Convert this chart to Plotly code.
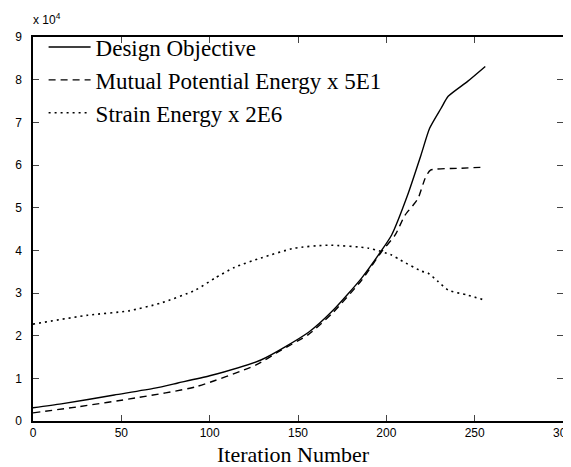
import plotly.graph_objects as go

# Design Objective
obj_x = [0, 16, 46, 69, 82, 100, 129, 156, 170, 186, 197, 203, 212, 219.6, 224.5, 231, 235, 246, 256]
obj_y = [3100, 4000, 6100, 7700, 8900, 10600, 14300, 20800, 26000, 33500, 39800, 43600, 52900, 62300, 68600, 73300, 76100, 79600, 83100]

# Mutual Potential Energy x 5E1
mpe_x = [0, 25, 58, 92, 126, 140, 156, 170, 186, 197, 205, 210.5, 215, 218, 222, 225, 240, 256]
mpe_y = [1900, 3300, 5400, 8000, 13100, 16500, 20300, 25500, 33000, 39500, 43600, 48200, 50500, 52200, 56900, 58800, 59200, 59500]

# Strain Energy x 2E6
se_x = [0, 31, 54, 72, 92, 103, 114, 129, 148, 167, 190, 203, 208, 220, 223.5, 229, 235, 246, 256]
se_y = [22700, 24800, 25800, 27600, 30700, 33500, 36000, 38200, 40500, 41200, 40500, 38900, 37700, 35100, 34700, 32800, 30700, 29500, 28300]

x_ticks = [0, 50, 100, 150, 200, 250, 300]
y_ticks = [0, 10000, 20000, 30000, 40000, 50000, 60000, 70000, 80000, 90000]
y_tick_text = ["0", "1", "2", "3", "4", "5", "6", "7", "8", "9"]

fig = go.Figure()
fig.add_trace(go.Scatter(x=obj_x, y=obj_y, mode="lines", name="Design Objective",
                         line=dict(color="black", width=1.4, shape="spline", smoothing=0.6)))
fig.add_trace(go.Scatter(x=mpe_x, y=mpe_y, mode="lines", name="Mutual Potential Energy x 5E1",
                         line=dict(color="black", width=1.4, dash="7px,5px", shape="spline", smoothing=0.6)))
fig.add_trace(go.Scatter(x=se_x, y=se_y, mode="lines", name="Strain Energy x 2E6",
                         line=dict(color="black", width=1.6, dash="2px,4px", shape="spline", smoothing=0.6)))

fig.update_layout(
    width=571, height=467,
    margin=dict(l=25, r=16, t=29, b=54, autoexpand=False),
    paper_bgcolor="white", plot_bgcolor="white",
    showlegend=True,
    legend=dict(x=0.02, y=1.03, xanchor="left", yanchor="top", itemwidth=42,
                font=dict(family="Liberation Serif", size=23, color="black"),
                bgcolor="rgba(0,0,0,0)", borderwidth=0, tracegroupgap=0),
    font=dict(family="Liberation Sans", color="black"),
)
fig.update_xaxes(range=[0, 300], tickvals=x_ticks, ticks="inside", ticklen=6,
                 showline=True, linecolor="black", linewidth=1.5, mirror="ticks",
                 showgrid=False, zeroline=False, automargin=False,
                 tickfont=dict(family="Liberation Sans", size=12, color="black"))
fig.update_yaxes(range=[0, 90000], tickvals=y_ticks, ticktext=y_tick_text, ticks="inside", ticklen=6,
                 showline=True, linecolor="black", linewidth=1.5, mirror="ticks",
                 showgrid=False, zeroline=False, automargin=False, ticklabelstandoff=7,
                 tickfont=dict(family="Liberation Sans", size=12, color="black"))
fig.add_annotation(xref="paper", yref="paper", x=0.491, y=-0.125, xanchor="center", yanchor="bottom",
                   text="Iteration Number", showarrow=False,
                   font=dict(family="Liberation Serif", size=22, color="black"))
fig.add_annotation(xref="paper", yref="paper", x=-0.004, y=1.0, xanchor="left", yanchor="bottom",
                   yshift=8, text="x 10<sup>4</sup>", showarrow=False,
                   font=dict(family="Liberation Sans", size=12, color="black"))
fig.write_html("out.html")
